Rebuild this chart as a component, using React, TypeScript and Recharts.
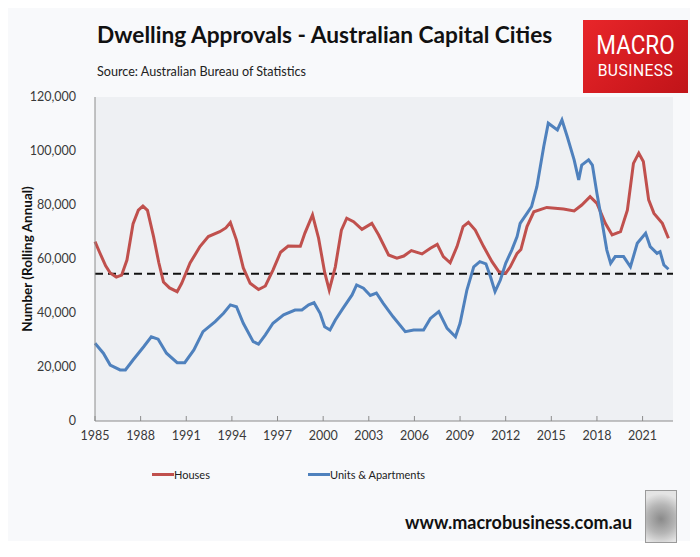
import { CartesianGrid, Line, LineChart, ReferenceLine, XAxis, YAxis } from "recharts";

// Houses, rolling annual approvals
const houseYears = [
    1985.0, 1985.3, 1985.7, 1986.0, 1986.4, 1986.75, 1987.1, 1987.5, 1987.85, 1988.15, 1988.45, 1988.85, 1989.2, 1989.5,
    1989.9, 1990.4, 1990.7, 1991.25, 1991.9, 1992.45, 1993.2, 1993.6, 1993.9, 1994.3, 1994.75, 1995.2, 1995.75, 1996.2,
    1996.7, 1997.2, 1997.7, 1998.5, 1998.8, 1999.3, 1999.7, 2000.1, 2000.4, 2000.8, 2001.2, 2001.55, 2002.0, 2002.55,
    2003.2, 2003.65, 2004.3, 2004.85, 2005.3, 2005.8, 2006.5, 2007.05, 2007.5, 2007.9, 2008.35, 2008.8, 2009.2, 2009.55,
    2010.0, 2010.55, 2011.1, 2011.55, 2012.0, 2012.3, 2012.75, 2013.0, 2013.4, 2013.85, 2014.7, 2015.8, 2016.5, 2017.0,
    2017.55, 2018.0, 2018.55, 2019.0, 2019.55, 2020.0, 2020.4, 2020.75, 2021.05, 2021.4, 2021.75, 2022.3, 2022.7,
];
const houseValues = [
    66400, 62500, 57500, 54800, 53300, 54000, 59600, 73000, 78100, 79600, 78000, 68300, 58500, 51500,
    49300, 47900, 51000, 58500, 64600, 68300, 70100, 71500, 73500, 67000, 56700, 51000, 48700, 50000,
    55900, 62500, 64800, 64700, 69600, 76300, 67700, 55000, 48500, 57100, 70700, 75100, 73800, 71000,
    73200, 68900, 61500, 60300, 61100, 63100, 61900, 64000, 65400, 60900, 58600, 64600, 72000, 73600,
    70700, 64600, 59000, 55300, 54700, 57100, 62100, 63500, 72000, 77500, 79100, 78500, 77800, 80000,
    83100, 80600, 73200, 68900, 70100, 78100, 95400, 99200, 96100, 81900, 76900, 73200, 67700,
];

// Units & apartments
const unitYears = [
    1985.0, 1985.55, 1986.0, 1986.65, 1987.0, 1987.5, 1988.2, 1988.7, 1989.15, 1989.7, 1990.4, 1990.9, 1991.5, 1992.1,
    1992.9, 1993.45, 1993.9, 1994.3, 1994.75, 1995.4, 1995.75, 1996.2, 1996.7, 1997.4, 1998.15, 1998.6, 1999.05, 1999.4,
    1999.8, 2000.1, 2000.45, 2000.8, 2001.3, 2001.9, 2002.2, 2002.65, 2003.1, 2003.5, 2003.95, 2004.6, 2005.4, 2005.95,
    2006.6, 2007.05, 2007.6, 2008.15, 2008.7, 2009.0, 2009.45, 2009.9, 2010.3, 2010.7, 2011.0, 2011.3, 2011.65, 2012.0,
    2012.4, 2012.75, 2012.95, 2013.4, 2013.7, 2014.05, 2014.5, 2014.8, 2015.4, 2015.7, 2016.05, 2016.5, 2016.8, 2017.0,
    2017.45, 2017.7, 2018.0, 2018.35, 2018.65, 2018.9, 2019.2, 2019.75, 2020.2, 2020.65, 2021.2, 2021.5, 2021.95, 2022.15,
    2022.4, 2022.7,
];
const unitValues = [
    28800, 25100, 20700, 18900, 18900, 22600, 27500, 31200, 30300, 25100, 21600, 21600, 26300, 33100,
    36800, 39900, 43000, 42300, 36200, 29400, 28500, 31900, 36200, 39300, 41100, 41100, 43000, 43800,
    39900, 34900, 33700, 37400, 41700, 46700, 50400, 49200, 46500, 47400, 43600, 38600, 33100, 33700,
    33700, 38000, 40500, 34300, 31200, 36200, 48500, 57100, 59000, 58200, 53400, 47900, 52200, 58400,
    63300, 68300, 73200, 76900, 79400, 86800, 101600, 110300, 107800, 111500, 105300, 96700, 89300, 94800,
    96700, 94800, 84300, 73200, 63300, 58400, 60900, 60900, 57100, 65800, 69500, 64600, 62100, 62700,
    57800, 56200,
];

const yearTicks = [1985, 1988, 1991, 1994, 1997, 2000, 2003, 2006, 2009, 2012, 2015, 2018, 2021];
const valueTicks = [0, 20000, 40000, 60000, 80000, 100000, 120000];
const averageLevel = 54500;

const houseData = houseYears.map((year, i) => ({ year, value: houseValues[i] }));
const unitData = unitYears.map((year, i) => ({ year, value: unitValues[i] }));

const FONT = "Lato, 'Open Sans', sans-serif";
const HOUSE_COLOR = "#c0504d";
const UNIT_COLOR = "#4f81bd";

const fmt = (v: number) => new Intl.NumberFormat("en-US").format(v);

function YearTick(props: any) {
    const { x, y, payload } = props;
    return (
        <g>
            <line x1={x} x2={x} y1={y} y2={y - 5} stroke="#8c8c8c" strokeWidth={1} />
            <text x={x} y={y + 19} textAnchor="middle" fill="#3a3a3a" fontSize={12.5} fontFamily={FONT}>
                {payload.value}
            </text>
        </g>
    );
}

export default function App() {
    return (
        <div style={{ position: "absolute", left: 0, top: 0, width: 700, height: 557, background: "#fff", fontFamily: FONT }}>
            <div style={{ position: "absolute", left: 8, top: 8, width: 682, height: 533, background: "#f8f9fb" }} />

            <div style={{ position: "absolute", left: 97, top: 21, fontSize: 22.7, fontWeight: 700, color: "#111", whiteSpace: "nowrap" }}>
                Dwelling Approvals - Australian Capital Cities
            </div>
            <div style={{ position: "absolute", left: 97, top: 64, fontSize: 12.6, color: "#222", whiteSpace: "nowrap" }}>
                Source: Australian Bureau of Statistics
            </div>

            <div
                style={{
                    position: "absolute",
                    left: 583,
                    top: 20,
                    width: 105,
                    height: 73,
                    background: "linear-gradient(135deg, #e8262a 0%, #d11a1f 60%, #c01419 100%)",
                    color: "#fff",
                    textAlign: "center",
                    fontFamily: "Roboto, sans-serif",
                }}
            >
                <div style={{ position: "absolute", left: 0, right: 0, top: 13, fontSize: 25, lineHeight: "25px", transform: "scaleX(0.9)" }}>MACRO</div>
                <div style={{ position: "absolute", left: 0, right: 0, top: 41, fontSize: 17, lineHeight: "18px", letterSpacing: 0.5, transform: "scaleX(0.92)" }}>BUSINESS</div>
            </div>

            <div style={{ position: "absolute", left: 0, top: 0 }}>
                <LineChart width={700} height={470} margin={{ top: 97, right: 27, left: 35, bottom: 19 }}>
                    <CartesianGrid horizontal={false} vertical={false} fill="#eef0f3" stroke="none" />
                    <XAxis
                        type="number"
                        dataKey="year"
                        domain={[1985, 2023]}
                        ticks={yearTicks}
                        allowDuplicatedCategory={false}
                        axisLine={{ stroke: "#8c8c8c" }}
                        tickLine={false}
                        tickSize={0}
                        tickMargin={0}
                        height={30}
                        tick={<YearTick />}
                        interval={0}
                    />
                    <YAxis
                        type="number"
                        domain={[0, 120000]}
                        ticks={valueTicks}
                        width={60}
                        axisLine={{ stroke: "#8c8c8c" }}
                        tickLine={false}
                        tickMargin={13}
                        tick={{ fill: "#3a3a3a", fontSize: 12.5, fontFamily: FONT }}
                        tickFormatter={(v) => fmt(Number(v))}
                    />
                    <ReferenceLine y={averageLevel} stroke="#111" strokeWidth={2} strokeDasharray="8 5" />
                    <Line data={houseData} dataKey="value" name="Houses" type="linear" stroke={HOUSE_COLOR} strokeWidth={3} dot={false} isAnimationActive={false} />
                    <Line data={unitData} dataKey="value" name="Units & Apartments" type="linear" stroke={UNIT_COLOR} strokeWidth={3} dot={false} isAnimationActive={false} />
                </LineChart>
            </div>

            <div
                style={{
                    position: "absolute",
                    left: 27,
                    top: 259,
                    transform: "translate(-50%, -50%) rotate(-90deg)",
                    fontSize: 13.5,
                    fontWeight: 700,
                    color: "#111",
                    whiteSpace: "nowrap",
                }}
            >
                Number (Rolling Annual)
            </div>

            <div style={{ position: "absolute", left: 152, top: 468, display: "flex", alignItems: "center", fontSize: 11, color: "#222" }}>
                <span style={{ display: "inline-block", width: 22, height: 3, background: HOUSE_COLOR }} />
                <span>Houses</span>
            </div>
            <div style={{ position: "absolute", left: 308, top: 468, display: "flex", alignItems: "center", fontSize: 11, color: "#222" }}>
                <span style={{ display: "inline-block", width: 22, height: 3, background: UNIT_COLOR }} />
                <span>Units &amp; Apartments</span>
            </div>

            <div style={{ position: "absolute", left: 405, top: 511, fontSize: 18, fontWeight: 700, color: "#111", whiteSpace: "nowrap" }}>
                www.macrobusiness.com.au
            </div>
            <div
                style={{
                    position: "absolute",
                    left: 645,
                    top: 490,
                    width: 30,
                    height: 51,
                    border: "1px solid #9a9a9a",
                    background: "radial-gradient(circle at 50% 55%, #8a8a8a 0%, #b5b5b5 45%, #e4e4e4 80%)",
                }}
            />
        </div>
    );
}
